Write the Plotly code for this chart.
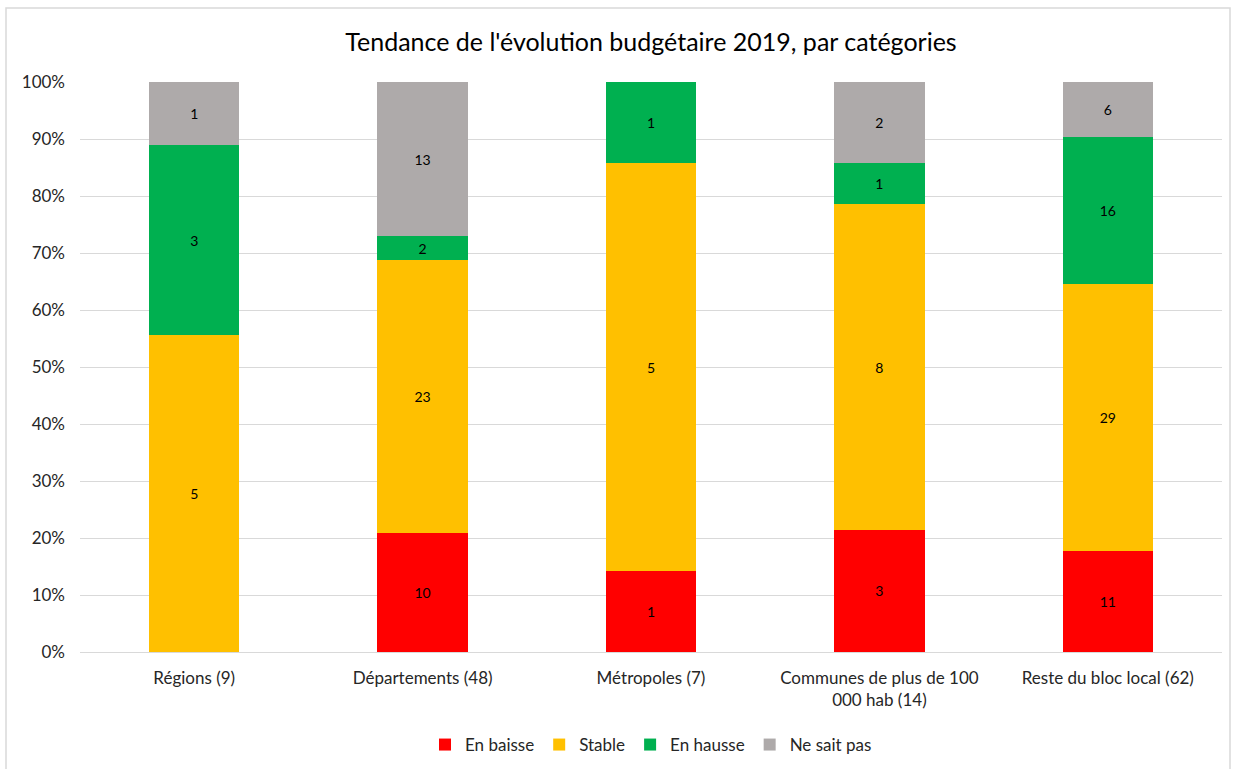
import plotly.graph_objects as go

categories = [
    "Régions (9)",
    "Départements (48)",
    "Métropoles (7)",
    "Communes de plus de 100<br>000 hab (14)",
    "Reste du bloc local (62)",
]
series_names = ["En baisse", "Stable", "En hausse", "Ne sait pas"]
en_baisse = [0, 10, 1, 3, 11]
stable = [5, 23, 5, 8, 29]
en_hausse = [3, 2, 1, 1, 16]
ne_sait_pas = [1, 13, 0, 2, 6]
colors = ["#FF0000", "#FFC000", "#00B050", "#AEAAAA"]

FONT = "Lato, 'Open Sans', sans-serif"

fig = go.Figure()
for name, vals, col in zip(series_names, [en_baisse, stable, en_hausse, ne_sait_pas], colors):
    fig.add_trace(go.Bar(
        name=name,
        x=categories,
        y=vals,
        marker=dict(color=col, line=dict(width=0)),
        text=[str(v) if v else "" for v in vals],
        textposition="inside",
        insidetextanchor="middle",
        textfont=dict(size=14, color="#000000", family=FONT),
        constraintext="none",
    ))

fig.update_layout(
    barmode="stack",
    barnorm="percent",
    bargap=0.605,
    width=1236,
    height=769,
    margin=dict(l=80, r=14, t=82, b=117),
    paper_bgcolor="white",
    plot_bgcolor="white",
    font=dict(family=FONT, size=17, color="#262626"),
    title=dict(
        text="Tendance de l'évolution budgétaire 2019, par catégories",
        x=0.5, xref="paper", xanchor="center",
        y=1 - 42 / 769, yref="container", yanchor="middle",
        font=dict(size=25, color="#000000", family=FONT),
    ),
    legend=dict(
        orientation="h",
        x=0.5, xanchor="center",
        y=1 - 745 / 769, yref="container", yanchor="middle",
        traceorder="normal",
        font=dict(size=17, color="#262626"),
        itemwidth=30,
    ),
    showlegend=True,
)
fig.update_yaxes(
    range=[0, 100],
    dtick=10,
    ticksuffix="%",
    showgrid=True,
    gridcolor="#D9D9D9",
    gridwidth=1,
    zeroline=True,
    zerolinecolor="#D9D9D9",
    zerolinewidth=1,
    ticks="",
    ticklabelstandoff=14,
    tickfont=dict(size=17),
    automargin=False,
)
fig.update_xaxes(
    showline=False,
    ticks="",
    ticklabelstandoff=14,
    tickfont=dict(size=17),
    automargin=False,
)
fig.add_shape(
    type="rect", xref="paper", yref="paper",
    x0=-74/1142, x1=1+8/1142, y0=-0.3, y1=1+74/570,
    line=dict(color="#D9D9D9", width=1.5),
    fillcolor="rgba(0,0,0,0)",
    layer="below",
)

fig.write_html("out.html")
